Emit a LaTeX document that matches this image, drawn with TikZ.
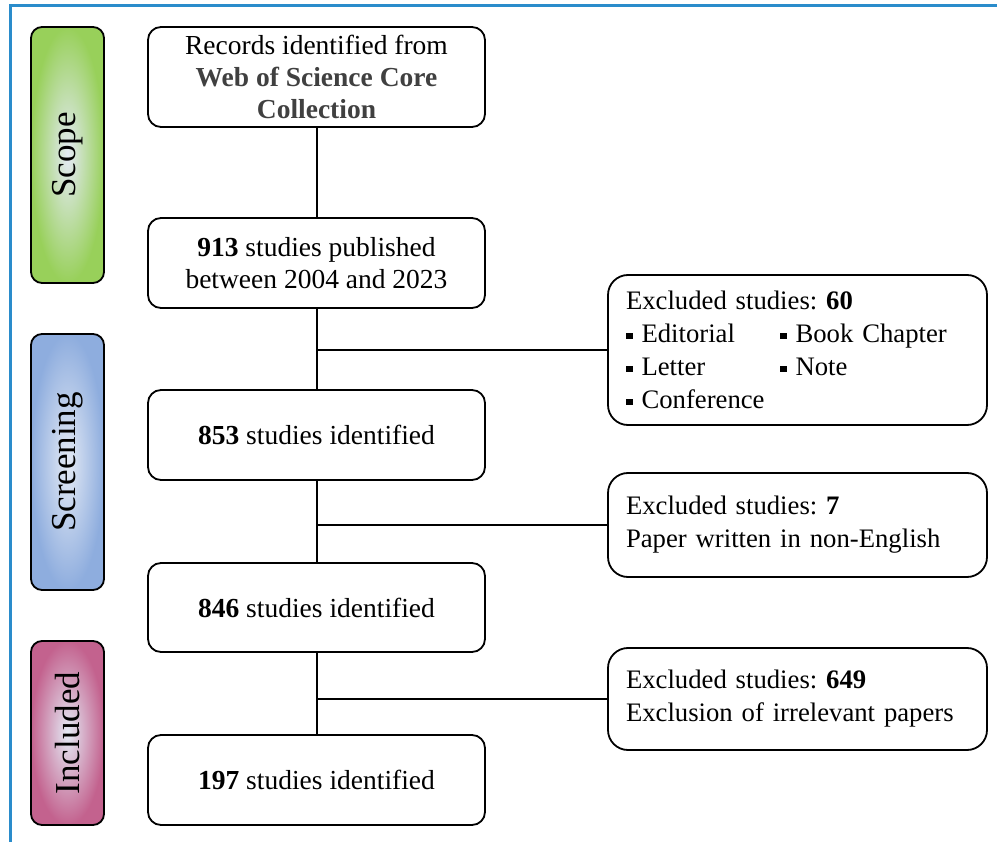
\documentclass[tikz,border=0pt]{standalone}
\usepackage{fontspec}
\setmainfont{Liberation Serif}
\usepackage{tikz}
\definecolor{frameblue}{HTML}{2A8CCB}
\definecolor{scopegreen}{HTML}{98D05A}
\definecolor{screenblue}{HTML}{8EADDE}
\definecolor{inclpink}{HTML}{C3628E}
\definecolor{shadecenter}{HTML}{E4EAF5}
\definecolor{wosgray}{HTML}{404040}
\newcommand{\sqbullet}{\raisebox{3.5pt}{\rule{6.5pt}{6.5pt}}\hspace{9pt}}

\begin{document}
\begin{tikzpicture}[x=1pt,y=-1pt,
    stage/.style={draw,line width=1.8pt,rounded corners=11pt,rotate=90,
      minimum height=73pt,inner sep=0pt,inner color=shadecenter,
      font=\fontsize{35}{40}\selectfont},
    mainbox/.style={draw,line width=1.8pt,rounded corners=13pt,
      minimum width=337pt,align=center,font=\fontsize{27.5}{32}\selectfont},
    exbox/.style={draw,line width=1.8pt,rounded corners=20pt,
      text width=343pt,inner xsep=18pt,align=left,
      font=\fontsize{26.7}{33}\selectfont\frenchspacing},
    link/.style={line width=2pt}]
    \useasboundingbox (0,0) rectangle (997,842);
    \draw[frameblue,line width=3pt] (10,842) -- (10,6) -- (997,6);
    %
    \node[stage,minimum width=256pt,outer color=scopegreen] (scope) at (67.5,155) {Scope};
    \node[stage,minimum width=256pt,outer color=screenblue] (screen) at (67.5,462) {Screening};
    \node[stage,minimum width=184pt,outer color=inclpink] (incl) at (67.5,733) {Included};
    %
    \node[mainbox,minimum height=100pt] (rec) at (316.5,77)
      {Records identified from\\{\bfseries\color{wosgray}Web of Science Core}\\{\bfseries\color{wosgray}Collection}};
    \node[mainbox,minimum height=90pt] (pub) at (316.5,263)
      {\textbf{913} studies published\\between 2004 and 2023};
    \node[mainbox,minimum height=90pt] (id853) at (316.5,435) {\textbf{853} studies identified};
    \node[mainbox,minimum height=89pt] (id846) at (316.5,607.5) {\textbf{846} studies identified};
    \node[mainbox,minimum height=90pt] (id197) at (316.5,780) {\textbf{197} studies identified};
    %
    \node[exbox,minimum height=150pt] (ex60) at (797.5,350)
      {Excluded studies: \textbf{60}\\
       \makebox[154pt][l]{\sqbullet Editorial}\sqbullet Book Chapter\\
       \makebox[154pt][l]{\sqbullet Letter}\sqbullet Note\\
       \sqbullet Conference};
    \node[exbox,minimum height=104pt] (ex7) at (797.5,525)
      {Excluded studies: \textbf{7}\\Paper written in non-English};
    \node[exbox,minimum height=102pt] (ex649) at (797.5,699)
      {Excluded studies: \textbf{649}\\Exclusion of irrelevant papers};
    %
    \draw[link] (rec.south) -- (pub.north);
    \draw[link] (pub.south) -- (id853.north);
    \draw[link] (id853.south) -- (id846.north);
    \draw[link] (id846.south) -- (id197.north);
    \draw[link] (pub.south |- ex60.west) -- (ex60.west);
    \draw[link] (id853.south |- ex7.west) -- (ex7.west);
    \draw[link] (id846.south |- ex649.west) -- (ex649.west);
\end{tikzpicture}
\end{document}
